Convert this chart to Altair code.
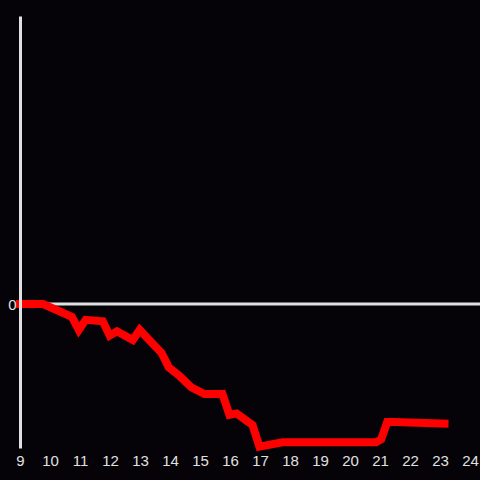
import altair as alt
import pandas as pd

hours = [9.0, 9.77, 10.73, 10.96, 11.19, 11.76, 11.99, 12.23, 12.76, 12.99,
         13.72, 13.96, 14.32, 14.72, 15.15, 15.75, 15.98, 16.22, 16.75, 16.98,
         17.75, 20.87, 21.04, 21.24, 21.47, 23.15]
values = [0, 0, -9, -18, -11, -12, -22, -19, -25, -18,
          -34, -44, -50, -58, -62.5, -62.5, -77, -76, -84, -99,
          -96, -96, -94, -82, -82, -83]
x_ticks = list(range(9, 25))

df = pd.DataFrame({"hour": hours, "value": values})
bg = "#050307"
fg = "#e0e0e0"

xs = alt.Scale(domain=[9, 9 + 460 / 30.0], nice=False, zero=False)
ys = alt.Scale(domain=[-100, 200], nice=False, zero=False)

zero = alt.Chart(pd.DataFrame({"y": [0]})).mark_rule(color=fg, strokeWidth=3).encode(
    y=alt.Y("y:Q", scale=ys)
)

line = alt.Chart(df).mark_line(color="#ff0000", strokeWidth=8, strokeCap="square",
                               strokeJoin="miter").encode(
    x=alt.X("hour:Q", scale=xs,
            axis=alt.Axis(values=x_ticks, domain=False, ticks=False, grid=False,
                          labelColor=fg, labelFontSize=15, labelFont="Liberation Sans",
                          labelPadding=5, labelFlush=False, labelOverlap=False,
                          title=None, zindex=1)),
    y=alt.Y("value:Q", scale=ys,
            axis=alt.Axis(values=[0], domain=True, domainColor=fg, domainWidth=3,
                          ticks=False, grid=False, labelColor=fg, labelFontSize=15,
                          labelFont="Liberation Sans", labelPadding=4, title=None,
                          zindex=1)),
)

chart = (zero + line).properties(
    width=460, height=432, background=bg,
    padding={"left": 20, "top": 16, "right": 0, "bottom": 20},
    autosize=alt.AutoSizeParams(type="none"),
).configure_view(stroke=None, fill=bg)


class DarkPage:
    def render(self, **kw):
        from altair.utils.html import TEMPLATES
        html = TEMPLATES["standard"].render(**kw)
        return html.replace(
            "<style>",
            "<style>\n    html, body { margin: 0; padding: 0; background: #050307; overflow: hidden; }",
            1,
        )


try:
    chart.save("out.html", embed_options={"renderer": "svg", "actions": False},
               template=DarkPage())
except Exception:
    chart = chart.properties(padding={"left": 12, "top": 8, "right": 0, "bottom": 16},
                             width=452)
    chart.save("out.html", embed_options={"renderer": "svg", "actions": False})
